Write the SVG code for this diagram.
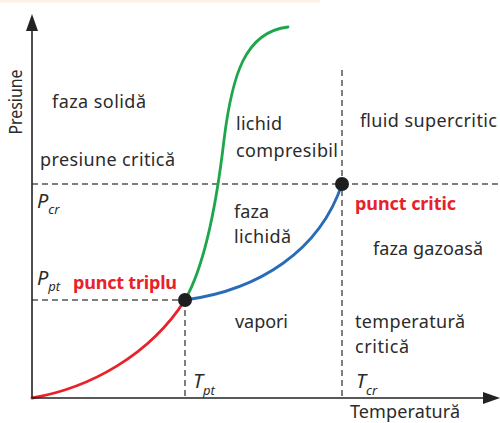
<svg xmlns="http://www.w3.org/2000/svg" width="500" height="423" viewBox="0 0 500 423">
<style>
.t{font-family:"Noto Sans","Liberation Sans",sans-serif;font-size:18px;fill:#2b2b2b}
.r{font-family:"Noto Sans","Liberation Sans",sans-serif;font-size:18px;font-weight:bold;fill:#e8212b}
.i{font-family:"Noto Sans","Liberation Sans",sans-serif;font-style:italic;fill:#2b2b2b}
.d{stroke:#555;stroke-width:1.5;stroke-dasharray:6 4;fill:none}
.ax{stroke:#222;stroke-width:1.6;fill:none}
.c{fill:none;stroke-width:2.8;stroke-linecap:round}
.pt{fill:#1e1e1e}
</style>
<rect x="0" y="0" width="320" height="2.5" fill="#fdf0e4"/>
<g id="connectors">
<path class="d" d="M32,184H500"/>
<path class="d" d="M32,300H185"/>
<path class="d" d="M342,70V398"/>
<path class="d" d="M185,300V398"/>
<path class="c" stroke="#e8212b" d="M32,398C90,388 150,355 185,300"/>
<path class="c" stroke="#1da64b" d="M185,300C205,265 217,200 224,140C232,75 245,32 288,27"/>
<path class="c" stroke="#2a6bb8" d="M185,300C260,290 320,250 342,184"/>
</g>
<g id="axes">
<path class="ax" d="M32,398V26"/>
<path class="ax" d="M32,398H488"/>
<polygon points="32,14 38,31 26,31" fill="#222"/>
<polygon points="500,398 483,392 483,404" fill="#222"/>
<text class="t" transform="translate(22,102) rotate(-90)" text-anchor="middle" textLength="65" lengthAdjust="spacingAndGlyphs">Presiune</text>
<text class="t" x="350" y="418" textLength="110">Temperatură</text>
</g>
<g id="triple-point"><circle class="pt" cx="185" cy="300" r="7"/></g>
<g id="critical-point"><circle class="pt" cx="342" cy="184" r="7"/></g>
<g id="labels">
<text class="t" x="52" y="108" textLength="94">faza solidă</text>
<text class="t" x="40" y="166" textLength="135">presiune critică</text>
<text class="i" x="37" y="208" font-size="20">P<tspan font-size="13" dy="6">cr</tspan></text>
<text class="i" x="37" y="285" font-size="20">P<tspan font-size="13" dy="6">pt</tspan></text>
<text class="r" x="73" y="289" textLength="104">punct triplu</text>
<text class="t" x="236" y="130" textLength="46">lichid</text>
<text class="t" x="236" y="157" textLength="102">compresibil</text>
<text class="t" x="360" y="127" textLength="137">fluid supercritic</text>
<text class="r" x="355" y="210" textLength="101">punct critic</text>
<text class="t" x="234" y="218" textLength="35">faza</text>
<text class="t" x="234" y="243" textLength="57">lichidă</text>
<text class="t" x="373" y="255" textLength="110">faza gazoasă</text>
<text class="t" x="235" y="328" textLength="53">vapori</text>
<text class="t" x="355" y="328" textLength="110">temperatură</text>
<text class="t" x="355" y="353" textLength="54">critică</text>
<text class="i" x="193" y="388" font-size="20">T<tspan font-size="13" dy="7">pt</tspan></text>
<text class="i" x="356" y="388" font-size="20">T<tspan font-size="13" dy="7">cr</tspan></text>
</g>
</svg>
